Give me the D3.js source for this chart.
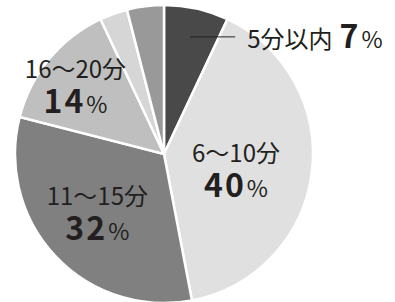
<!DOCTYPE html>
<html>
<head>
<meta charset="utf-8">
<script src="https://cdn.jsdelivr.net/npm/d3@7"></script>
<style>
  html, body { margin: 0; padding: 0; background: #fff; }
  svg { display: block; font-family: "Noto Sans CJK JP", "Noto Sans", sans-serif; }
</style>
</head>
<body>
<div id="chart"></div>
<script>
// commute time share
const categories = ['5分以内', '6～10分', '11～15分', '16～20分', '', ''];
const values = [7, 40, 32, 14, 3, 4];
const colors = ['#4a4949', '#e0e0e0', '#808080', '#bfbfbf', '#d6d6d6', '#999999'];

const width = 395;
const height = 302;
const cx = 164;
const cy = 154;
const radius = 149;
const textColor = '#231f20';

// label layout: radius from centre and angle nudge (degrees) for each labelled slice
const labelRadius = [120, 74, 90, 111];
const labelNudge = [0, 6, 1, -2.5];

const data = categories.map((c, i) => ({ name: c, value: values[i], color: colors[i] }));

const svg = d3.select('#chart')
              .append('svg')
              .attr('width', width)
              .attr('height', height);

const g = svg.append('g')
             .attr('transform', 'translate(' + cx + ',' + cy + ')');

const pie = d3.pie()
              .sort(null)
              .value((d) => d.value);

const arc = d3.arc()
              .innerRadius(0)
              .outerRadius(radius);

const arcs = pie(data);

g.selectAll('.slice')
 .data(arcs)
 .enter()
 .append('path')
 .attr('class', 'slice')
 .attr('d', arc)
 .style('fill', (d) => d.data.color)
 .style('stroke', '#fff')
 .style('stroke-width', 2.5)
 .style('stroke-linejoin', 'miter');

const labelPoint = (d, i) => {
  const a = (d.startAngle + d.endAngle) / 2 + labelNudge[i] * Math.PI / 180;
  return d3.pointRadial(a, labelRadius[i]);
};

// first slice: leader line and label outside the pie
const p0 = labelPoint(arcs[0], 0);
g.append('line')
 .attr('x1', p0[0])
 .attr('y1', p0[1])
 .attr('x2', p0[0] + 45)
 .attr('y2', p0[1])
 .style('stroke', textColor)
 .style('stroke-width', 1);

const t0 = g.append('text')
            .attr('x', p0[0] + 57)
            .attr('y', p0[1] + 11)
            .style('fill', textColor);
t0.append('tspan')
  .style('font-size', '24px')
  .text(arcs[0].data.name);
t0.append('tspan')
  .attr('dx', 7)
  .style('font-size', '32px')
  .style('font-weight', 'bold')
  .text(arcs[0].data.value);
t0.append('tspan')
  .attr('dx', 3)
  .style('font-size', '23px')
  .text('%');

// inner labels: name on the first line, share on the second
arcs.slice(1, 4).forEach((d, k) => {
  const i = k + 1;
  const p = labelPoint(d, i);
  const lab = g.append('text')
               .attr('text-anchor', 'middle')
               .style('fill', textColor);
  lab.append('tspan')
     .attr('x', p[0])
     .attr('y', p[1] - 9)
     .style('font-size', '24px')
     .text(d.data.name);
  lab.append('tspan')
     .attr('x', p[0])
     .attr('y', p[1] + 26)
     .style('font-size', '32px')
     .style('font-weight', 'bold')
     .style('letter-spacing', '2px')
     .text(d.data.value);
  lab.append('tspan')
     .attr('dx', 1)
     .style('font-size', '23px')
     .style('letter-spacing', '0px')
     .text('%');
});
</script>
</body>
</html>
